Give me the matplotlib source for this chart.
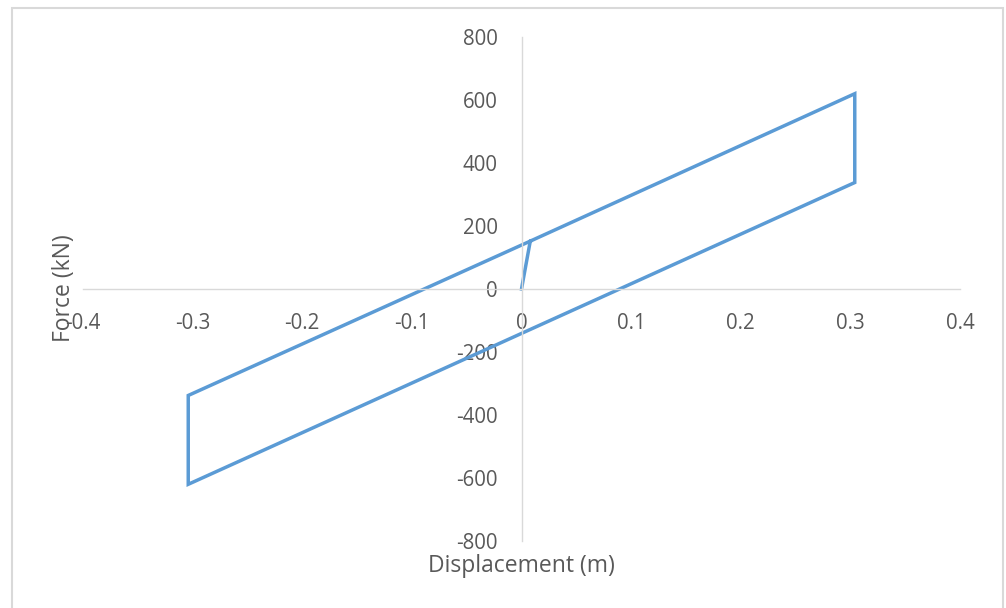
import matplotlib.pyplot as plt
from matplotlib.patches import Rectangle

# hysteresis loop of the isolator, displacement in m, force in kN
displacement = [0.0, 0.008, 0.304, 0.304, -0.304, -0.304, 0.008]
force = [0.0, 152, 620, 338, -620, -338, 152]

x_ticks = [-0.4, -0.3, -0.2, -0.1, 0, 0.1, 0.2, 0.3, 0.4]
y_ticks = [-800, -600, -400, -200, 0, 200, 400, 600, 800]

plt.rcParams['font.family'] = ['Open Sans', 'DejaVu Sans']

W, H = 1006, 608
fig = plt.figure(figsize=(W / 100, H / 100), dpi=100)
ax = fig.add_axes([83 / W, (H - 541) / H, (960 - 83) / W, (541 - 37) / H])

ax.plot(displacement, force, color='#5B9BD5', lw=2.5, solid_joinstyle='miter')

ax.set_xlim(-0.4, 0.4)
ax.set_ylim(-800, 800)
ax.set_xticks(x_ticks)
ax.set_yticks(y_ticks)
ax.set_xticklabels([('%g' % v) for v in x_ticks])
ax.set_yticklabels([str(v) for v in y_ticks])

for side in ['top', 'right']:
    ax.spines[side].set_visible(False)
for side in ['left', 'bottom']:
    ax.spines[side].set_position(('data', 0))
    ax.spines[side].set_color('#D9D9D9')
    ax.spines[side].set_linewidth(1.0)
ax.tick_params(length=0, labelsize=14.8, colors='#595959')
ax.tick_params(axis='x', pad=17)
ax.tick_params(axis='y', pad=17)

fig.text(521 / W, 1 - 566 / H, 'Displacement (m)', ha='center', va='center',
         fontsize=16.5, color='#595959')
fig.text(64 / W, 1 - 288 / H, 'Force (kN)', ha='center', va='center',
         rotation=90, fontsize=16.5, color='#595959')

# chart area frame
fig.patches.append(Rectangle((12 / W, -0.05), (1003 - 12) / W, 1.05 - 8 / H,
                             transform=fig.transFigure, fill=False,
                             edgecolor='#D9D9D9', lw=1.5))

fig.savefig('out.png', dpi=100)
